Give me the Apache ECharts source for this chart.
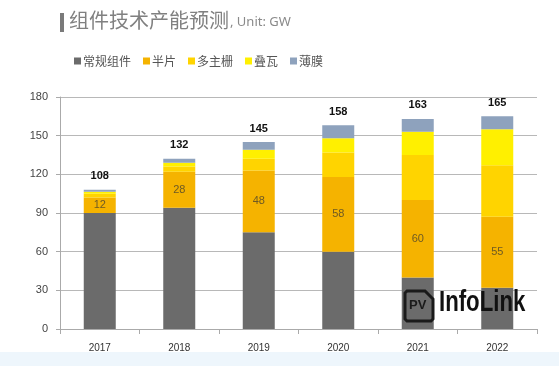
<!DOCTYPE html>
<html><head><meta charset="utf-8">
<script src="https://cdn.jsdelivr.net/npm/echarts@6/dist/echarts.min.js"></script>
<style>html,body{margin:0;padding:0;background:#fff}#c{width:559px;height:366px}</style>
</head><body><div id="c"></div>
<script>
const categories = ['2017','2018','2019','2020','2021','2022'];
const seriesNames = ['常规组件','半片','多主栅','叠瓦','薄膜'];
const conventional = [90, 94, 75, 60, 40, 32];
const halfCut = [12, 28, 48, 58, 60, 55];
const multiBusbar = [3, 4, 9, 19, 35, 40];
const shingled = [1.5, 3, 7, 11, 18, 28];
const thinFilm = [1.5, 3, 6, 10, 10, 10];
const totals = [108, 132, 145, 158, 163, 165];
const yTicks = [0, 30, 60, 90, 120, 150, 180];

const colors = ['#6b6b6b', '#f5b300', '#ffd400', '#fff000', '#8ea2bd'];
const values = [conventional, halfCut, multiBusbar, shingled, thinFilm];

const chart = echarts.init(document.getElementById('c'));
const series = values.map((v, i) => {
  const s = {
    name: seriesNames[i], type: 'bar', stack: 'total', data: v,
    barWidth: 32, itemStyle: { color: colors[i] }
  };
  if (i === 1) {
    s.label = { show: true, position: 'inside', color: '#6e5a24', fontSize: 11,
      fontFamily: 'Liberation Sans, Arial, sans-serif' };
  }
  if (i === 4) {
    s.label = { show: true, position: 'top', distance: 8, color: '#111', fontSize: 11, fontWeight: 'bold',
      fontFamily: 'Liberation Sans, Arial, sans-serif',
      formatter: p => totals[p.dataIndex] };
  }
  return s;
});

const logoZ = 50;
chart.setOption({
  animation: false,
  color: colors,
  grid: { left: 60, right: 22, top: 97, bottom: 37 },
  legend: {
    data: seriesNames, left: 69, top: 50, itemWidth: 7, itemHeight: 7, itemGap: 12,
    icon: 'rect',
    textStyle: { color: '#555', fontSize: 12, fontFamily: 'Noto Sans CJK SC', padding: [0, 0, 0, -3] }
  },
  xAxis: {
    type: 'category', data: categories,
    axisLine: { lineStyle: { color: '#aaa' } },
    axisTick: { show: true, length: 5, lineStyle: { color: '#aaa' } },
    axisLabel: { color: '#333', fontSize: 10, margin: 14, fontFamily: 'Liberation Sans, Arial, sans-serif' }
  },
  yAxis: {
    type: 'value', min: 0, max: 180, interval: 30,
    axisLine: { show: true, lineStyle: { color: '#aaa' } },
    axisTick: { show: true, length: 4, lineStyle: { color: '#aaa' } },
    axisLabel: { color: '#444', fontSize: 11, margin: 12, fontFamily: 'Liberation Sans, Arial, sans-serif',
      formatter: v => yTicks.includes(v) ? String(v) : '' },
    splitLine: { lineStyle: { color: '#b8b8b8', width: 1 } }
  },
  series: series,
  graphic: [
    { type: 'rect', shape: { x: 0, y: 352, width: 559, height: 14 }, style: { fill: '#eef6fc' }, z: -1 },
    { type: 'rect', shape: { x: 60, y: 13, width: 4, height: 19 }, style: { fill: '#7a7a7a' } },
    { type: 'text', x: 69, y: 10, style: { text: '组件技术产能预测', fill: '#808080', font: '20px "Noto Sans CJK SC"' } },
    { type: 'text', x: 230, y: 16, style: { text: ', Unit: GW', fill: '#8a8a8a', font: '13px "Noto Sans", sans-serif' } },
    { type: 'polygon', z: logoZ, shape: { points: [[407,291],[425,291],[433,299],[433,319],[431,321],[407,321],[405,319],[405,293]] },
      style: { fill: 'rgba(0,0,0,0)', stroke: '#1a1a1a', lineWidth: 3 } },
    { type: 'text', z: logoZ, x: 409, y: 299, style: { text: 'PV', fill: '#1a1a1a', font: 'bold 13px "Liberation Sans", sans-serif' } },
    { type: 'text', z: logoZ, x: 439, y: 288, scaleX: 0.74, style: { text: 'InfoLink', fill: '#111', font: 'bold 30px "Liberation Sans", sans-serif' } }
  ]
});
</script></body></html>
